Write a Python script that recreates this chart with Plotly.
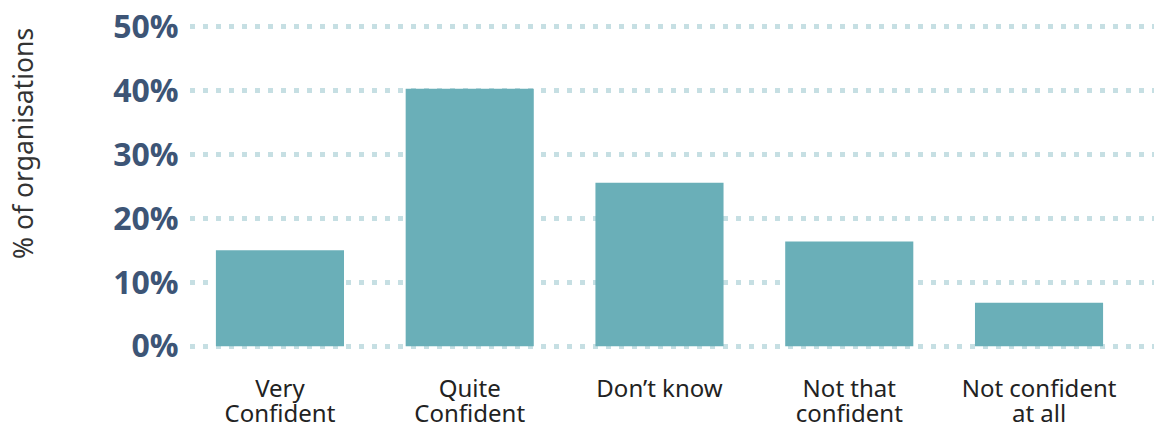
import plotly.graph_objects as go

categories = ["Very Confident", "Quite Confident", "Don’t know", "Not that confident", "Not confident at all"]
label_line1 = ["Very", "Quite", "Don’t know", "Not that", "Not confident"]
label_line2 = ["Confident", "Confident", "", "confident", "at all"]
values = [15.0, 40.3, 25.6, 16.4, 6.8]
tick_vals = [0, 10, 20, 30, 40, 50]
tick_text = ["0%", "10%", "20%", "30%", "40%", "50%"]

# the page body adds an 8px margin, so the figure is sized/placed to compensate
X_RANGE = [-0.474, 4.648]
label_font = dict(family="Noto Sans, Open Sans, sans-serif", size=24, color="#222222")

fig = go.Figure()
fig.add_trace(go.Bar(
    x=categories, y=values,
    marker=dict(color="#6aafb8", line=dict(width=0)),
    width=0.675,
    hoverinfo="skip",
))
# invisible companion trace so the second-line label axis gets drawn
fig.add_trace(go.Scatter(
    x=list(range(len(categories))), y=values, xaxis="x2",
    mode="markers", marker=dict(opacity=0, size=1),
    hoverinfo="skip", showlegend=False,
))

fig.update_layout(
    width=1154, height=420,
    margin=dict(l=182, r=0, t=15, b=78),
    paper_bgcolor="white", plot_bgcolor="white",
    showlegend=False,
    xaxis=dict(
        type="category", automargin=False, range=X_RANGE,
        tickvals=categories, ticktext=label_line1,
        showgrid=False, zeroline=False, showline=False,
        ticks="outside", ticklen=17, tickcolor="rgba(0,0,0,0)",
        ticklabeloverflow="allow",
        tickfont=label_font,
    ),
    xaxis2=dict(
        overlaying="x", side="bottom", anchor="y",
        type="linear", automargin=False, range=X_RANGE,
        tickvals=list(range(len(categories))), ticktext=label_line2,
        showgrid=False, zeroline=False, showline=False,
        ticks="outside", ticklen=42, tickcolor="rgba(0,0,0,0)",
        ticklabeloverflow="allow",
        tickfont=label_font,
    ),
    yaxis=dict(
        automargin=False,
        range=[-0.6, 50.6],
        tickvals=tick_vals, ticktext=tick_text,
        showgrid=True, gridcolor="#c6dfe3", gridwidth=5, griddash="5px,8px",
        zeroline=False, showline=False,
        ticks="outside", ticklen=4, tickcolor="rgba(0,0,0,0)",
        ticklabeloverflow="allow",
        tickfont=dict(family="Open Sans, sans-serif", size=32, color="#3d5576", weight="bold"),
    ),
)
fig.add_annotation(
    text="% of organisations",
    xref="paper", yref="paper",
    x=(15 - 182) / 972, y=(342 - 136) / 327,
    xanchor="center", yanchor="middle",
    textangle=-90, showarrow=False,
    font=dict(family="Noto Sans, Open Sans, sans-serif", size=26.5, color="#333333"),
)

fig.write_html("out.html")
